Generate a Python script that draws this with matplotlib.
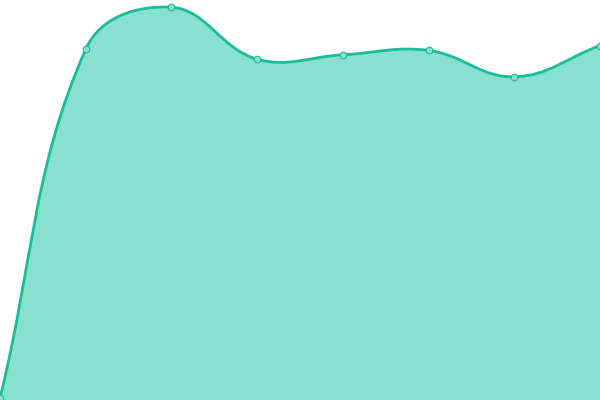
import numpy as np
import matplotlib
matplotlib.use("Agg")
import matplotlib.pyplot as plt
from matplotlib.path import Path
from matplotlib.patches import PathPatch

labels = ["A", "B", "C", "D", "E", "F", "G", "H"]
values = [0.5, 87.7, 98.2, 85.2, 86.3, 87.4, 80.8, 88.6]

LINE = "#1abc9c"
FILL = "#88e0cf"

fig = plt.figure(figsize=(6, 4), dpi=100)
ax = fig.add_axes([0, 0, 1, 1])
ax.set_xlim(0, len(values) - 1)
ax.set_ylim(0, 100)
ax.axis("off")

xs = np.arange(len(values))
pts = ax.transData.transform(np.column_stack([xs, values]))

# Chart.js-style spline (tension 0.4), computed in pixel space
t = 0.4
n = len(pts)
cprev = np.zeros_like(pts)
cnext = np.zeros_like(pts)
for i in range(n):
    cur = pts[i]
    prev = pts[i - 1] if i > 0 else cur
    nxt = pts[i + 1] if i < n - 1 else cur
    d01 = np.hypot(*(cur - prev))
    d12 = np.hypot(*(nxt - cur))
    tot = d01 + d12
    s01 = d01 / tot if tot else 0
    s12 = d12 / tot if tot else 0
    cprev[i] = cur - t * s01 * (nxt - prev)
    cnext[i] = cur + t * s12 * (nxt - prev)

verts = [pts[0]]
codes = [Path.MOVETO]
for i in range(n - 1):
    verts += [cnext[i], cprev[i + 1], pts[i + 1]]
    codes += [Path.CURVE4] * 3

inv = ax.transData.inverted()
curve_data = inv.transform(np.array(verts))

line_path = Path(curve_data, codes)
fill_verts = list(curve_data) + [(xs[-1], 0), (xs[0], 0), curve_data[0]]
fill_codes = codes + [Path.LINETO, Path.LINETO, Path.CLOSEPOLY]
fill_path = Path(np.array(fill_verts), fill_codes)

ax.add_patch(PathPatch(fill_path, facecolor=FILL, edgecolor="none", zorder=1))
ax.add_patch(PathPatch(line_path, facecolor="none", edgecolor=LINE, lw=2.0, zorder=2))
ax.plot(xs, values, linestyle="none", marker="o", markersize=4.8,
        markerfacecolor=FILL, markeredgecolor=LINE, markeredgewidth=0.8,
        zorder=3, clip_on=False)

fig.savefig("out.png", dpi=100)
